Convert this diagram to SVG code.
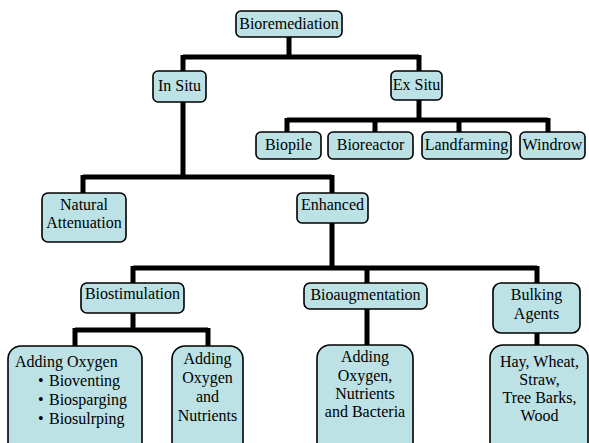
<svg xmlns="http://www.w3.org/2000/svg" width="589" height="443" viewBox="0 0 589 443">
<style>
.n{fill:#bce2e5;stroke:#000;stroke-width:1.6}
.c{fill:none;stroke:#000;stroke-width:5;stroke-linejoin:miter;stroke-linecap:butt}
</style>
<rect width="589" height="443" fill="#fff"/>
<g id="connectors">
<path class="c" d="M289,37V57M183,57H419M183,55V72M419,55V71"/>
<path class="c" d="M419,100V120M287,120H548M287,118V132M375,118V132M459,118V132M548,118V132"/>
<path class="c" d="M183,102V177M83,177H332M83,175V193M332,175V193"/>
<path class="c" d="M332,223V268M133,268H537M133,266V283M367,266V283M537,266V283"/>
<path class="c" d="M133,313V330M75,330H208M75,328V346M208,328V346"/>
<path class="c" d="M367,309V345M537,333V345"/>
</g>
<g font-family="Liberation Serif" font-size="16" text-anchor="middle" fill="#000">
<g id="bioremediation"><rect class="n" x="236" y="11" width="106" height="26" rx="5"/><text x="289" y="29">Bioremediation</text></g>
<g id="insitu"><rect class="n" x="153" y="71" width="53" height="31" rx="5"/><text x="179.5" y="91">In Situ</text></g>
<g id="exsitu"><rect class="n" x="391" y="71" width="51" height="29" rx="5"/><text x="416.5" y="90">Ex Situ</text></g>
<g id="biopile"><rect class="n" x="256" y="132" width="65" height="27" rx="5"/><text x="288.5" y="150">Biopile</text></g>
<g id="bioreactor"><rect class="n" x="328" y="132" width="85" height="27" rx="5"/><text x="370.5" y="150">Bioreactor</text></g>
<g id="landfarming"><rect class="n" x="422" y="132" width="89" height="27" rx="5"/><text x="466.5" y="150">Landfarming</text></g>
<g id="windrow"><rect class="n" x="520" y="132" width="65" height="27" rx="5"/><text x="552.5" y="150">Windrow</text></g>
<g id="natural"><rect class="n" x="42" y="193" width="84" height="49" rx="6"/><text x="84" y="210">Natural</text><text x="84" y="228">Attenuation</text></g>
<g id="enhanced"><rect class="n" x="297" y="193" width="71" height="30" rx="5"/><text x="332.5" y="210">Enhanced</text></g>
<g id="biostimulation"><rect class="n" x="81" y="283" width="103" height="30" rx="6"/><text x="132.5" y="299">Biostimulation</text></g>
<g id="bioaugmentation"><rect class="n" x="304" y="283" width="123" height="26" rx="6"/><text x="365.5" y="300">Bioaugmentation</text></g>
<g id="bulking"><rect class="n" x="493" y="283" width="87" height="50" rx="8"/><text x="536.5" y="300">Bulking</text><text x="536.5" y="319">Agents</text></g>
<g id="addingoxygen"><rect class="n" x="8" y="346" width="134" height="110" rx="13"/><text text-anchor="start" x="15" y="367">Adding Oxygen</text>
<text text-anchor="start" x="38" y="386">•</text><text text-anchor="start" x="49" y="386">Bioventing</text>
<text text-anchor="start" x="38" y="405">•</text><text text-anchor="start" x="49" y="405">Biosparging</text>
<text text-anchor="start" x="38" y="424">•</text><text text-anchor="start" x="49" y="424">Biosulrping</text></g>
<g id="oxygennutrients"><rect class="n" x="172" y="346" width="71" height="110" rx="13"/><text x="207.5" y="364">Adding</text><text x="207.5" y="383">Oxygen</text><text x="207.5" y="402">and</text><text x="207.5" y="421">Nutrients</text></g>
<g id="bacteria"><rect class="n" x="317" y="345" width="96" height="111" rx="13"/><text x="365" y="362">Adding</text><text x="365" y="381">Oxygen,</text><text x="365" y="399">Nutrients</text><text x="365" y="417">and Bacteria</text></g>
<g id="hay"><rect class="n" x="490" y="345" width="98" height="111" rx="13"/><text x="539.5" y="367">Hay, Wheat,</text><text x="539.5" y="385">Straw,</text><text x="539.5" y="403">Tree Barks,</text><text x="539.5" y="421">Wood</text></g>
</g>
</svg>
